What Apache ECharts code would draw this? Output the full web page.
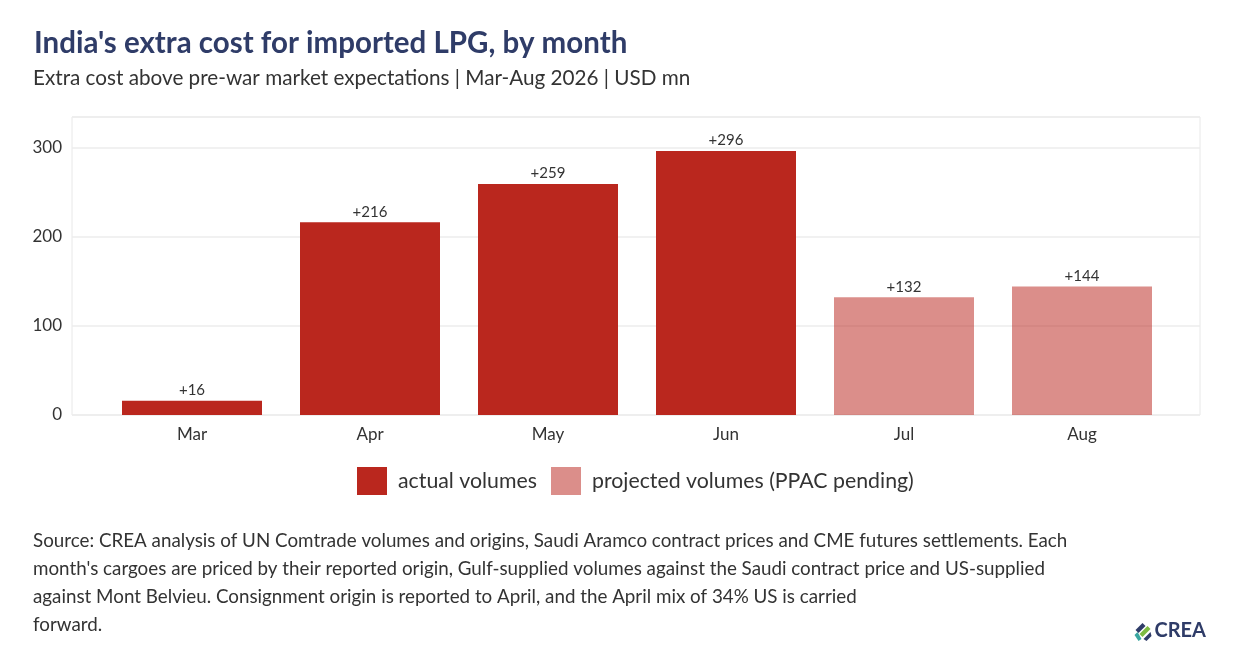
<!DOCTYPE html>
<html>
<head>
<meta charset="utf-8">
<script src="https://cdn.jsdelivr.net/npm/echarts@6/dist/echarts.min.js"></script>
<style>
  html, body { margin: 0; padding: 0; background: #fff; }
  #chart { width: 1244px; height: 664px; }
</style>
</head>
<body>
<div id="chart"></div>
<script>
var months = ['Mar', 'Apr', 'May', 'Jun', 'Jul', 'Aug'];
var actual = [16, 216, 259, 296, null, null];
var projected = [null, null, null, null, 132, 144];
var yTicks = [0, 100, 200, 300];

var FONT = 'Lato';
var RED = '#BA271E';
var PINK = 'rgba(186,39,30,0.52)';
var TXT = '#333333';

var sourceLines = [
	'Source: CREA analysis of UN Comtrade volumes and origins, Saudi Aramco contract prices and CME futures settlements. Each',
	"month's cargoes are priced by their reported origin, Gulf-supplied volumes against the Saudi contract price and US-supplied",
	'against Mont Belvieu. Consignment origin is reported to April, and the April mix of 34% US is carried',
	'forward.'
];

var myChart = echarts.init(document.getElementById('chart'));

var yMax = 334;

var option = {
	backgroundColor: '#fff',
	animation: false,
	textStyle: { fontFamily: FONT },
	title: [{
		text: "India's extra cost for imported LPG, by month",
		left: 29,
		top: 23,
		textStyle: { fontFamily: FONT, fontSize: 29.5, fontWeight: 'bold', color: '#2F3C68' }
	}, {
		text: 'Extra cost above pre-war market expectations | Mar-Aug 2026 | USD mn',
		left: 28,
		top: 63,
		textStyle: { fontFamily: FONT, fontSize: 20.7, fontWeight: 'normal', color: TXT }
	}, {
		text: sourceLines.join('\n'),
		left: 28,
		top: 522,
		textStyle: { fontFamily: FONT, fontSize: 18.8, fontWeight: 'normal', color: TXT, lineHeight: 28 }
	}],
	legend: {
		top: 462,
		left: 352,
		itemWidth: 30,
		itemHeight: 28,
		itemGap: 14,
		icon: 'rect',
		textStyle: { fontFamily: FONT, fontSize: 21.3, color: TXT, padding: [0, 0, 0, 6] },
		data: ['actual volumes', 'projected volumes (PPAC pending)']
	},
	grid: [{
		// frame + value scale
		left: 72, right: 44, top: 117, bottom: 249,
		show: true, borderColor: '#e8e8e8', borderWidth: 1
	}, {
		// bars
		left: 103, right: 73, top: 117, bottom: 249
	}],
	xAxis: [{
		gridIndex: 0,
		type: 'value',
		show: false
	}, {
		gridIndex: 1,
		type: 'category',
		data: months,
		axisLine: { show: false },
		axisTick: { show: false },
		axisLabel: { fontFamily: FONT, fontSize: 17, color: TXT, margin: 11 }
	}],
	yAxis: [{
		gridIndex: 0,
		type: 'value',
		min: 0,
		max: yMax,
		interval: 100,
		axisLine: { show: false },
		axisTick: { show: false },
		axisLabel: {
			fontFamily: FONT, fontSize: 17, color: TXT, margin: 10,
			formatter: function (v) { return yTicks.indexOf(v) >= 0 ? v : ''; }
		},
		splitLine: { lineStyle: { color: '#ededed', width: 1.5 } }
	}, {
		gridIndex: 1,
		type: 'value',
		min: 0,
		max: yMax,
		show: false,
		splitLine: { show: false }
	}],
	series: [{
		name: 'actual volumes',
		type: 'bar',
		xAxisIndex: 1,
		yAxisIndex: 1,
		data: actual,
		barWidth: 140,
		barGap: '-100%',
		itemStyle: { color: RED },
		label: {
			show: true, position: 'top', distance: 3,
			fontFamily: FONT, fontSize: 15, color: TXT,
			formatter: function (p) { return '+' + p.value; }
		}
	}, {
		name: 'projected volumes (PPAC pending)',
		type: 'bar',
		xAxisIndex: 1,
		yAxisIndex: 1,
		data: projected,
		barWidth: 140,
		barGap: '-100%',
		itemStyle: { color: PINK },
		label: {
			show: true, position: 'top', distance: 3,
			fontFamily: FONT, fontSize: 15, color: TXT,
			formatter: function (p) { return '+' + p.value; }
		}
	}],
	graphic: [{
		type: 'group',
		right: 38,
		top: 621,
		children: [{
			type: 'polygon',
			shape: { points: [[2, 10], [9, 3], [12, 6], [5, 13]] },
			style: { fill: '#2F3C68' }
		}, {
			type: 'polygon',
			shape: { points: [[6, 14], [14, 6], [17, 9], [9, 17]] },
			style: { fill: '#7DBB42' }
		}, {
			type: 'polygon',
			shape: { points: [[1, 15], [4, 12], [8, 19], [5, 21]] },
			style: { fill: '#3AA6A0' }
		}, {
			type: 'polygon',
			shape: { points: [[10, 19], [17, 12], [18, 16], [13, 21]] },
			style: { fill: '#2F3C68' }
		}, {
			type: 'text',
			left: 21,
			top: 1,
			style: { text: 'CREA', font: 'bold 20px ' + FONT, fill: '#2F3C68' }
		}]
	}]
};

myChart.setOption(option);
</script>
</body>
</html>
